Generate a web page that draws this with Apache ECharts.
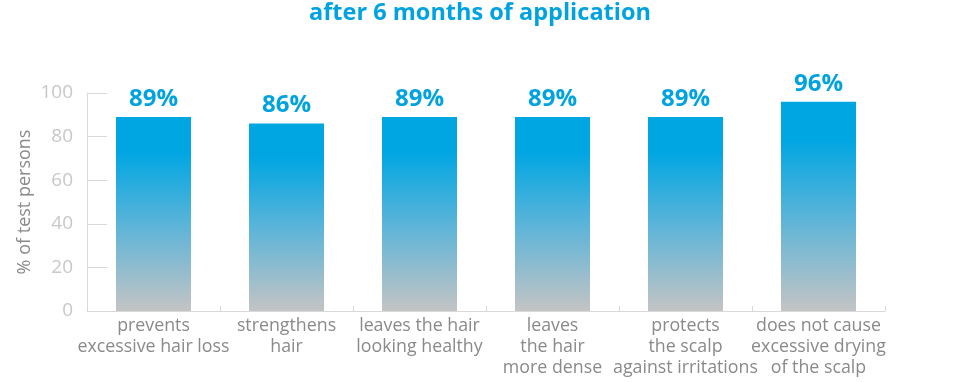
<!DOCTYPE html>
<html><head><meta charset="utf-8">
<script src="https://cdn.jsdelivr.net/npm/echarts@6/dist/echarts.min.js"></script>
<style>html,body{margin:0;padding:0;background:#fff}#c{width:960px;height:382px}</style>
</head><body><div id="c"></div>
<script>
const titleText = "after 6 months of application";
const categories = ["prevents\nexcessive hair loss","strengthens\nhair","leaves the hair\nlooking healthy","leaves\nthe hair\nmore dense","protects\nthe scalp\nagainst irritations","does not cause\nexcessive drying\nof the scalp"];
const values = [89, 86, 89, 89, 89, 96];
const yTicks = [0, 20, 40, 60, 80, 100];
const yName = "% of test persons";

const chart = echarts.init(document.getElementById('c'), null, {renderer:'canvas'});
const F = "'Open Sans', sans-serif";
chart.setOption({
  animation:false,
  title:{text:titleText,left:'center',top:-4,textStyle:{color:'#00a3e0',fontFamily:F,fontWeight:'bold',fontSize:23.5}},
  grid:{left:87,right:75,top:93,bottom:71},
  xAxis:{type:'category',data:categories,
    axisLine:{lineStyle:{color:'#d9d9d9',width:1}},
    axisTick:{show:true,inside:true,length:5,lineStyle:{color:'#d9d9d9'}},
    axisLabel:{color:'#8a8a8a',fontFamily:F,fontSize:17.8,lineHeight:21,margin:4,interval:0}},
  yAxis:{type:'value',min:0,max:100,interval:20,
    name:yName,nameLocation:'middle',nameGap:53,nameRotate:90,nameMoveOverlap:false,
    nameTextStyle:{color:'#8a8a8a',fontFamily:F,fontSize:18},
    axisLine:{show:true,lineStyle:{color:'#d9d9d9'}},
    axisTick:{show:true,inside:true,length:20,lineStyle:{color:'#d9d9d9'}},
    splitLine:{show:false},
    axisLabel:{color:'#c8c8c8',fontFamily:F,fontSize:19,margin:14,
      formatter:v=>yTicks.includes(v)?String(v):''}},
  series:[{type:'bar',data:values,barWidth:75,
    itemStyle:{color:new echarts.graphic.LinearGradient(0,0,0,1,[
      {offset:0,color:'#00a6e2'},{offset:0.18,color:'#00a6e2'},
      {offset:0.55,color:'#5ab4d9'},{offset:1,color:'#c4c4c4'}])},
    label:{show:true,position:'top',distance:6,formatter:'{c}%',color:'#00a3e0',fontFamily:F,fontWeight:'bold',fontSize:24}}]
});
</script></body></html>
